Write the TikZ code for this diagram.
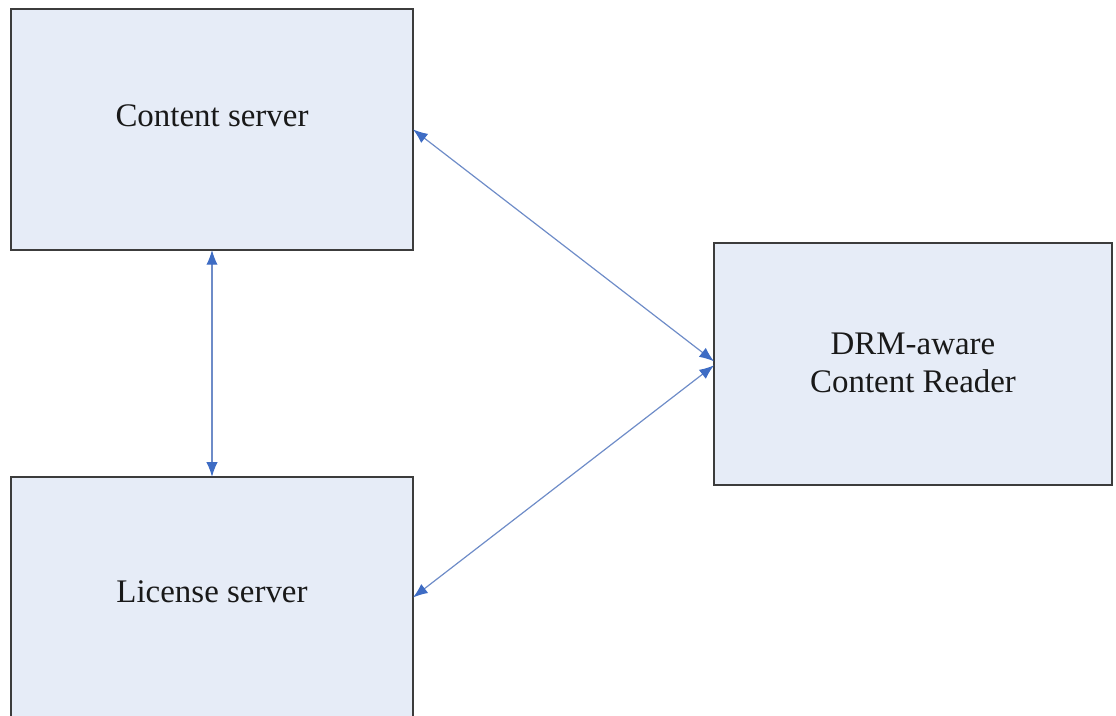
\documentclass[tikz,border=0pt]{standalone}
\usepackage{fontspec}
\setmainfont{Liberation Serif}
\usetikzlibrary{arrows.meta}

\definecolor{boxfill}{RGB}{230,236,247}
\definecolor{boxedge}{RGB}{60,60,60}
\definecolor{linkblue}{RGB}{110,140,200}
\definecolor{tipblue}{RGB}{62,108,196}

\tikzset{
  block/.style={draw=boxedge, fill=boxfill, line width=1.2pt,
    inner sep=0pt, outer sep=0pt},
  blocktext/.style={font=\fontsize{24.7}{28.5}\selectfont, text=black!90,
    align=center},
  link/.style={draw=linkblue, line width=0.9pt,
    {Latex[length=11pt,width=8.5pt,color=tipblue]}-{Latex[length=11pt,width=8.5pt,color=tipblue]}}
}

\begin{document}
\begin{tikzpicture}[x=0.75pt,y=-0.75pt]
  \useasboundingbox (0,0) rectangle (1116,715);
  \begin{scope}
    \clip (0,0) rectangle (1116,715);

    % servers on the left, reader on the right
    \node[block, minimum width=301.5pt, minimum height=181pt,
      label={[blocktext, yshift=10.3pt]center:Content server}]
      (content) at (212,129.4) {};
    \node[block, minimum width=301.5pt, minimum height=181pt,
      label={[blocktext, yshift=4.4pt]center:License server}]
      (license) at (212,597.5) {};
    \node[block, minimum width=298.5pt, minimum height=181.5pt]
      (reader) at (913,364) {};
    \node[blocktext] (readertext) at (913,362.5) {DRM-aware\\Content Reader};

    % two-way links
    \draw[link] (content.south) -- (license.north);
    \draw[link] (content.east) -- ([yshift=2pt]reader.west);
    \draw[link] (license.east) -- ([yshift=-1pt]reader.west);
  \end{scope}
\end{tikzpicture}
\end{document}
